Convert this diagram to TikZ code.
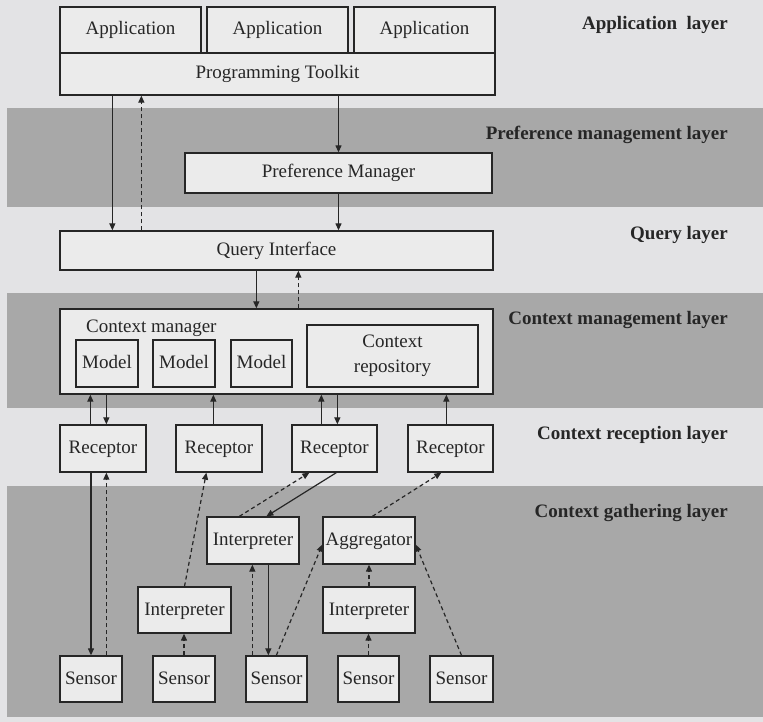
\documentclass[tikz,border=0pt]{standalone}
\usepackage{fontspec}
\setmainfont{Liberation Serif}
\usetikzlibrary{arrows.meta}
\definecolor{pagebg}{HTML}{E3E3E5}
\definecolor{bandbg}{HTML}{A8A8A8}
\definecolor{boxbg}{HTML}{EBEBEB}
\definecolor{ink}{HTML}{262626}
\begin{document}
\begin{tikzpicture}[x=1pt,y=-1pt,
  every node/.style={font=\fontsize{19}{25}\selectfont, text=ink},
  blk/.style={draw=ink, line width=1.3pt, fill=boxbg, inner sep=0pt, align=center,
              text height=13pt, text depth=3pt},
  lay/.style={anchor=east, inner sep=0pt, font=\fontsize{19}{23}\selectfont\bfseries, text=ink},
  arr/.style={draw=ink, line width=1.2pt, -{Triangle[length=7pt,width=6pt]}},
  darr/.style={arr, dash pattern=on 4pt off 3pt}]

% page and layer bands
\fill[pagebg] (0,0) rectangle (763,722);
\useasboundingbox (0,0) rectangle (763,722);
\fill[bandbg] (7,108) rectangle (763,207);
\fill[bandbg] (7,293) rectangle (763,408);
\fill[bandbg] (7,486) rectangle (763,717);

% layer titles
\node[lay] (lApp)  at (728,25)  {Application\ \ layer};
\node[lay] (lPref) at (728,135) {Preference management layer};
\node[lay] (lQry)  at (728,235) {Query layer};
\node[lay] (lMgmt) at (728,320) {Context management layer};
\node[lay] (lRec)  at (728,435) {Context reception layer};
\node[lay] (lGath) at (728,513) {Context gathering layer};

% application layer
\node[blk, minimum width=141pt, minimum height=46pt] (app1) at (130.5,30) {Application};
\node[blk, minimum width=141pt, minimum height=46pt] (app2) at (277.5,30) {Application};
\node[blk, minimum width=141pt, minimum height=46pt] (app3) at (424.5,30) {Application};
\node[blk, minimum width=435pt, minimum height=42pt] (toolkit) at (277.5,74) {Programming Toolkit};

% preference and query layers
\node[blk, minimum width=307pt, minimum height=40pt] (pm) at (338.5,173) {Preference Manager};
\node[blk, minimum width=433pt, minimum height=39pt] (qi) at (276.5,250.5) {Query Interface};

% context management layer
\node[blk, minimum width=433pt, minimum height=85pt] (cm) at (276.5,351.5) {};
\node[anchor=west, inner sep=0pt] (cmlabel) at (86,328) {Context manager};
\node[blk, minimum width=62pt, minimum height=47pt] (m1) at (107,363.5) {Model};
\node[blk, minimum width=62pt, minimum height=47pt] (m2) at (184,363.5) {Model};
\node[blk, minimum width=61pt, minimum height=47pt] (m3) at (261.5,363.5) {Model};
\node[blk, minimum width=171pt, minimum height=62pt, text height=, text depth=] (repo) at (392.5,356) {Context\\repository};

% context reception layer
\node[blk, minimum width=86pt, minimum height=47pt] (r1) at (103,448.5) {Receptor};
\node[blk, minimum width=86pt, minimum height=47pt] (r2) at (219,448.5) {Receptor};
\node[blk, minimum width=85pt, minimum height=47pt] (r3) at (334.5,448.5) {Receptor};
\node[blk, minimum width=85pt, minimum height=47pt] (r4) at (450.5,448.5) {Receptor};

% context gathering layer
\node[blk, minimum width=92pt, minimum height=47pt] (i1) at (253,540.5) {Interpreter};
\node[blk, minimum width=92pt, minimum height=47pt] (agg) at (369,540.5) {Aggregator};
\node[blk, minimum width=93pt, minimum height=46pt] (i2) at (184.5,610) {Interpreter};
\node[blk, minimum width=92pt, minimum height=46pt] (i3) at (369,610) {Interpreter};
\node[blk, minimum width=62pt, minimum height=46pt] (s1) at (91,679) {Sensor};
\node[blk, minimum width=62pt, minimum height=46pt] (s2) at (184,679) {Sensor};
\node[blk, minimum width=61pt, minimum height=46pt] (s3) at (276.5,679) {Sensor};
\node[blk, minimum width=61pt, minimum height=46pt] (s4) at (368.5,679) {Sensor};
\node[blk, minimum width=63pt, minimum height=46pt] (s5) at (461.5,679) {Sensor};

% toolkit <-> query interface, via preference manager
\coordinate (tq) at ([xshift=53pt]toolkit.south west);
\coordinate (qt) at ([xshift=82pt]qi.north west);
\draw[arr]  (tq) -- (tq |- qi.north);
\draw[darr] (qt) -- (qt |- toolkit.south);
\draw[arr]  (toolkit.south -| pm.north) -- (pm.north);
\draw[arr]  (pm.south) -- (qi.north -| pm.south);

% query interface <-> context manager
\coordinate (qc) at ([xshift=197pt]qi.south west);
\coordinate (cq) at ([xshift=239pt]cm.north west);
\draw[arr]  (qc) -- (qc |- cm.north);
\draw[darr] (cq) -- (cq |- qi.south);

% receptors <-> context manager
\coordinate (r1u) at ([xshift=31pt]r1.north west);
\coordinate (r1d) at ([xshift=47pt]cm.south west);
\coordinate (r2u) at ([xshift=38pt]r2.north west);
\coordinate (r3u) at ([xshift=30pt]r3.north west);
\coordinate (r3d) at ([xshift=278pt]cm.south west);
\coordinate (r4u) at ([xshift=39pt]r4.north west);
\draw[arr] (r1u) -- (r1u |- cm.south);
\draw[arr] (r1d) -- (r1d |- r1.north);
\draw[arr] (r2u) -- (r2u |- cm.south);
\draw[arr] (r3u) -- (r3u |- cm.south);
\draw[arr] (r3d) -- (r3d |- r3.north);
\draw[arr] (r4u) -- (r4u |- cm.south);

% sensors, interpreters and aggregator
\coordinate (s1u) at ([xshift=47pt]s1.north west);
\draw[arr]  (r1.south -| s1.north) -- (s1.north);
\draw[darr] (s1u) -- (s1u |- r1.south);

\draw[darr] (i2.north) -- ([xshift=31pt]r2.south west);
\draw[darr] (s2.north) -- (s2.north |- i2.south);

\draw[darr] ([xshift=33pt]i1.north west) -- ([xshift=18pt]r3.south west);
\draw[arr]  ([xshift=45pt]r3.south west) -- ([xshift=60pt]i1.north west);

\coordinate (s3u) at ([xshift=7pt]s3.north west);
\coordinate (i1d) at ([xshift=62pt]i1.south west);
\draw[darr] (s3u) -- (s3u |- i1.south);
\draw[arr]  (i1d) -- (i1d |- s3.north);
\draw[darr] ([xshift=31pt]s3.north west) -- ([yshift=-4pt]agg.west);

\draw[darr] ([xshift=50pt]agg.north west) -- ([xshift=34pt]r4.south west);
\draw[darr] (i3.north) -- (agg.south);
\draw[darr] (s4.north) -- (s4.north |- i3.south);
\draw[darr] (s5.north) -- ([yshift=-4pt]agg.east);
\end{tikzpicture}
\end{document}
